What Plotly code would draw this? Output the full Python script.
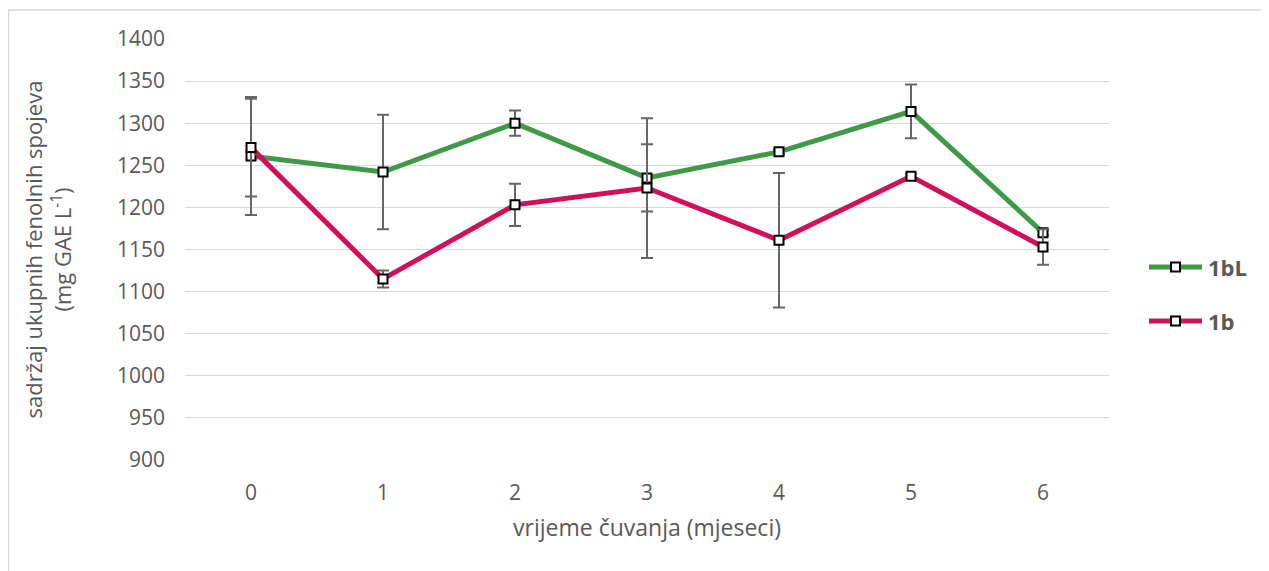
import plotly.graph_objects as go

months = [0, 1, 2, 3, 4, 5, 6]
series_names = ["1bL", "1b"]
vals_1bL = [1261, 1242, 1300, 1235, 1266, 1314, 1170]
err_1bL = [70, 68, 15, 40, 3, 32, 3]
vals_1b = [1271, 1115, 1203, 1223, 1161, 1237, 1153]
err_1b = [58, 10, 25, 83, 80, 3, 21]
colors = ["#3f9a47", "#d0105a"]
y_ticks = [900, 950, 1000, 1050, 1100, 1150, 1200, 1250, 1300, 1350, 1400]

FONT = "Open Sans"
TXT = "#595959"
OFF = 8  # page body margin

fig = go.Figure()
for name, vals, errs, col in [(series_names[0], vals_1bL, err_1bL, colors[0]),
                              (series_names[1], vals_1b, err_1b, colors[1])]:
    fig.add_trace(go.Scatter(
        x=months, y=vals, name=name, mode="lines+markers",
        line=dict(color=col, width=5),
        marker=dict(symbol="square", size=9, color="white",
                    line=dict(color="black", width=2)),
        error_y=dict(type="data", array=errs, visible=True,
                     color="#666666", thickness=2, width=6),
        showlegend=False,
    ))

# plot area in screenshot px: x 185..1109, y 39..460
L, R, T, B = 185 - OFF, 1109 - OFF, 39 - OFF, 460 - OFF
FW, FH = 1269 - OFF, 571 - OFF
W, H = R - L, B - T
def px(x):
    return (x - OFF - L) / W
def py(y):
    return (B - (y - OFF)) / H

shapes = []
annotations = []
# outer border (top and left visible)
shapes.append(dict(type="line", xref="paper", yref="paper",
                   x0=px(8), x1=px(1290), y0=py(10), y1=py(10),
                   line=dict(color="#d9d9d9", width=1.5)))
shapes.append(dict(type="line", xref="paper", yref="paper",
                   x0=px(8.5), x1=px(8.5), y0=py(10), y1=py(600),
                   line=dict(color="#d9d9d9", width=1.5)))
# manual legend
for i, (name, col) in enumerate(zip(series_names, colors)):
    yc = 267 + i * 54
    shapes.append(dict(type="line", xref="paper", yref="paper",
                       x0=px(1149), x1=px(1202), y0=py(yc), y1=py(yc),
                       line=dict(color=col, width=5)))
    shapes.append(dict(type="rect", xref="paper", yref="paper",
                       x0=px(1171), x1=px(1180), y0=py(yc - 4.5), y1=py(yc + 4.5),
                       fillcolor="white", line=dict(color="black", width=2)))
    annotations.append(dict(xref="paper", yref="paper", x=px(1206), y=py(yc),
                            xanchor="left", yanchor="middle", showarrow=False,
                            text="<b>" + name + "</b>",
                            font=dict(family=FONT, size=22, color=TXT)))

fig.update_layout(
    width=FW, height=FH,
    margin=dict(l=L, r=FW - R, t=T, b=FH - B),
    paper_bgcolor="white", plot_bgcolor="white",
    font=dict(family=FONT, color=TXT),
    shapes=shapes, annotations=annotations,
    xaxis=dict(
        range=[-0.5, 6.5], tickmode="array", tickvals=months,
        ticktext=[str(m) for m in months],
        showgrid=False, zeroline=False, showline=False, ticks="",
        ticklabelstandoff=18,
        tickfont=dict(family=FONT, size=21, color=TXT),
        title=dict(text="vrijeme čuvanja (mjeseci)",
                   font=dict(family=FONT, size=23, color=TXT), standoff=14),
    ),
    yaxis=dict(
        range=[900, 1400], tickmode="array", tickvals=y_ticks,
        showgrid=True, gridcolor="#d9d9d9", gridwidth=1.3,
        zeroline=False, showline=False, ticks="",
        ticklabelstandoff=19,
        tickfont=dict(family=FONT, size=21, color=TXT),
        title=dict(text="sadržaj ukupnih fenolnih spojeva<br>(mg GAE L<sup>-1</sup>)",
                   font=dict(family=FONT, size=22, color=TXT), standoff=39),
    ),
)

fig.write_html("out.html")
